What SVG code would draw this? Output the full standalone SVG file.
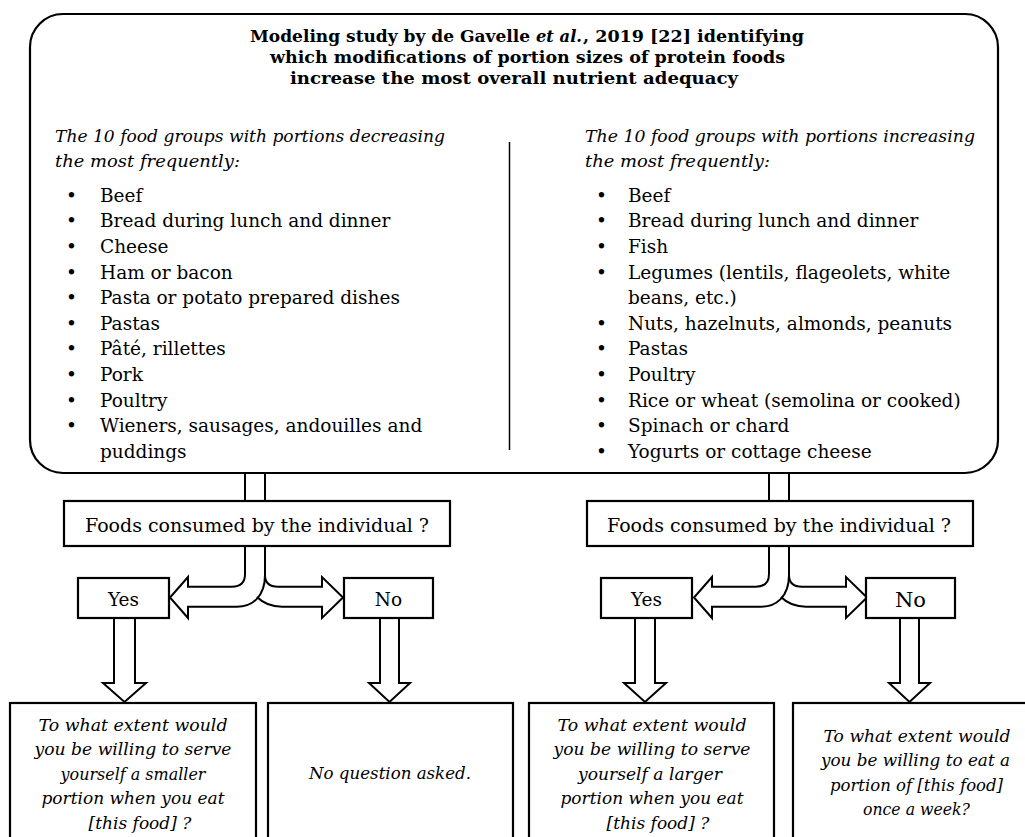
<svg xmlns="http://www.w3.org/2000/svg" width="1025" height="837" viewBox="0 0 1025 837">
<defs>
<style>
.t{font-family:"DejaVu Serif","Liberation Serif",serif;fill:#000}
.b{font-weight:bold;font-size:17.5px}
.r{font-size:18.5px}
.i{font-style:italic;font-size:17.5px}
.q{font-style:italic;font-size:17px}
.box{fill:#fff;stroke:#000;stroke-width:2.2}
.ln{fill:none;stroke:#000;stroke-width:2}
.thin{fill:none;stroke:#000;stroke-width:1.5}
</style>
<g id="split">
<path class="ln" d="M245,546 L245,574 Q245,586.7 232,586.7 L188,586.7 L188,577 L170,597.5 L188,618 L188,606.7 L237,606.7 C252,606.7 265,597 265,575 L265,546"/>
<path class="ln" d="M265,575 Q265,586.7 278,586.7 L322,586.7 L322,577 L343,597.5 L322,618 L322,606.7 L282,606.7 C271,606.7 263,603 257,597"/>
</g>
</defs>
<rect width="1025" height="837" fill="#fff"/>

<g id="connectors">
<path class="ln" d="M245,473 L245,501 M265,473 L265,501"/>
<path class="ln" d="M769,473 L769,501 M789,473 L789,501"/>
<use href="#split"/>
<use href="#split" transform="translate(524,0)"/>
<path class="ln" d="M114,618 L114,683 L103,683 L124.5,702 L146,683 L135,683 L135,618"/>
<path class="ln" d="M380,618 L380,683 L369,683 L389.5,702 L410,683 L399,683 L399,618"/>
<path class="ln" d="M635,618 L635,683 L624,683 L645,702 L666,683 L655,683 L655,618"/>
<path class="ln" d="M900,618 L900,683 L889,683 L909.5,702 L930,683 L919,683 L919,618"/>
</g>

<g id="study">
<rect class="box" x="30" y="14" width="968" height="459" rx="33" ry="33"/>
<text class="t b" x="250" y="42" textLength="280" lengthAdjust="spacingAndGlyphs">Modeling study by de Gavelle</text>
<text class="t b" x="536" y="42" textLength="46" lengthAdjust="spacingAndGlyphs" font-style="italic">et al.</text>
<text class="t b" x="583" y="42" textLength="221" lengthAdjust="spacingAndGlyphs">, 2019 [22] identifying</text>
<text class="t b" x="270" y="63" textLength="515" lengthAdjust="spacingAndGlyphs">which modifications of portion sizes of protein foods</text>
<text class="t b" x="290" y="84" textLength="448" lengthAdjust="spacingAndGlyphs">increase the most overall nutrient adequacy</text>
<line class="thin" x1="509.5" y1="142" x2="509.5" y2="450"/>
<text class="t i" x="55" y="141.5" textLength="390" lengthAdjust="spacingAndGlyphs">The 10 food groups with portions decreasing</text>
<text class="t i" x="55" y="167" textLength="185" lengthAdjust="spacingAndGlyphs">the most frequently:</text>
<g class="t r">
<text x="66" y="201.7">•</text><text x="100" y="201.7">Beef</text>
<text x="66" y="227.3">•</text><text x="100" y="227.3">Bread during lunch and dinner</text>
<text x="66" y="252.9">•</text><text x="100" y="252.9">Cheese</text>
<text x="66" y="278.5">•</text><text x="100" y="278.5">Ham or bacon</text>
<text x="66" y="304.1">•</text><text x="100" y="304.1">Pasta or potato prepared dishes</text>
<text x="66" y="329.7">•</text><text x="100" y="329.7">Pastas</text>
<text x="66" y="355.3">•</text><text x="100" y="355.3">Pâté, rillettes</text>
<text x="66" y="380.9">•</text><text x="100" y="380.9">Pork</text>
<text x="66" y="406.5">•</text><text x="100" y="406.5">Poultry</text>
<text x="66" y="432.1">•</text><text x="100" y="432.1">Wieners, sausages, andouilles and</text>
<text x="100" y="457.7">puddings</text>
</g>
<text class="t i" x="585" y="141.5" textLength="390" lengthAdjust="spacingAndGlyphs">The 10 food groups with portions increasing</text>
<text class="t i" x="585" y="167" textLength="185" lengthAdjust="spacingAndGlyphs">the most frequently:</text>
<g class="t r">
<text x="596" y="201.7">•</text><text x="628" y="201.7">Beef</text>
<text x="596" y="227.3">•</text><text x="628" y="227.3">Bread during lunch and dinner</text>
<text x="596" y="252.9">•</text><text x="628" y="252.9">Fish</text>
<text x="596" y="278.5">•</text><text x="628" y="278.5">Legumes (lentils, flageolets, white</text>
<text x="628" y="304.1">beans, etc.)</text>
<text x="596" y="329.7">•</text><text x="628" y="329.7">Nuts, hazelnuts, almonds, peanuts</text>
<text x="596" y="355.3">•</text><text x="628" y="355.3">Pastas</text>
<text x="596" y="380.9">•</text><text x="628" y="380.9">Poultry</text>
<text x="596" y="406.5">•</text><text x="628" y="406.5">Rice or wheat (semolina or cooked)</text>
<text x="596" y="432.1">•</text><text x="628" y="432.1">Spinach or chard</text>
<text x="596" y="457.7">•</text><text x="628" y="457.7">Yogurts or cottage cheese</text>
</g>
</g>

<g id="consumed-left">
<rect class="box" x="64" y="501" width="386" height="45"/>
<text class="t r" x="257" y="531.5" text-anchor="middle" textLength="344" lengthAdjust="spacingAndGlyphs">Foods consumed by the individual ?</text>
</g>
<g id="consumed-right">
<rect class="box" x="587" y="501" width="386" height="45"/>
<text class="t r" x="779" y="531.5" text-anchor="middle" textLength="344" lengthAdjust="spacingAndGlyphs">Foods consumed by the individual ?</text>
</g>

<g id="yes-left">
<rect class="box" x="78" y="578" width="91" height="40"/>
<text class="t r" x="123.5" y="606" text-anchor="middle">Yes</text>
</g>
<g id="no-left">
<rect class="box" x="344" y="578" width="89" height="40"/>
<text class="t r" x="388.5" y="606" text-anchor="middle">No</text>
</g>
<g id="yes-right">
<rect class="box" x="601" y="578" width="91" height="40"/>
<text class="t r" x="646.5" y="606" text-anchor="middle">Yes</text>
</g>
<g id="no-right">
<rect class="box" x="866" y="578" width="89" height="40"/>
<text class="t" x="910.5" y="607" text-anchor="middle" font-size="21">No</text>
</g>

<g id="question-smaller">
<rect class="box" x="10" y="703" width="246" height="160"/>
<g class="t q" text-anchor="middle">
<text x="133" y="730.5" textLength="189" lengthAdjust="spacingAndGlyphs">To what extent would</text>
<text x="133" y="755" textLength="197" lengthAdjust="spacingAndGlyphs">you be willing to serve</text>
<text x="133" y="779.5" textLength="145" lengthAdjust="spacingAndGlyphs">yourself a smaller</text>
<text x="133" y="804" textLength="183" lengthAdjust="spacingAndGlyphs">portion when you eat</text>
<text x="140" y="828.5">[this food] ?</text>
</g>
</g>
<g id="no-question">
<rect class="box" x="268" y="703" width="245" height="160"/>
<text class="t q" x="390" y="779" text-anchor="middle" textLength="162" lengthAdjust="spacingAndGlyphs">No question asked.</text>
</g>
<g id="question-larger">
<rect class="box" x="529" y="703" width="245" height="160"/>
<g class="t q" text-anchor="middle">
<text x="652" y="730.5" textLength="189" lengthAdjust="spacingAndGlyphs">To what extent would</text>
<text x="652" y="755" textLength="197" lengthAdjust="spacingAndGlyphs">you be willing to serve</text>
<text x="650" y="779.5" textLength="144" lengthAdjust="spacingAndGlyphs">yourself a larger</text>
<text x="652" y="804" textLength="183" lengthAdjust="spacingAndGlyphs">portion when you eat</text>
<text x="658" y="828.5">[this food] ?</text>
</g>
</g>
<g id="question-weekly">
<rect class="box" x="793" y="703" width="245" height="160"/>
<g class="t q" text-anchor="middle">
<text x="917" y="741.5" textLength="187" lengthAdjust="spacingAndGlyphs">To what extent would</text>
<text x="915.5" y="766" textLength="189" lengthAdjust="spacingAndGlyphs">you be willing to eat a</text>
<text x="916.5" y="790.5" textLength="173" lengthAdjust="spacingAndGlyphs">portion of [this food]</text>
<text x="916.5" y="815" textLength="107" lengthAdjust="spacingAndGlyphs">once a week?</text>
</g>
</g>
</svg>
